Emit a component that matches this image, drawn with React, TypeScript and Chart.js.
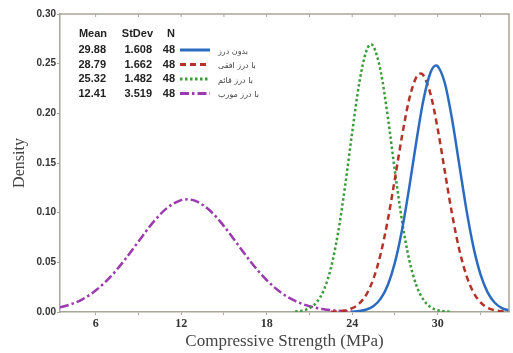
import React, { useEffect, useRef } from "react";
import { Chart, registerables } from "chart.js";

Chart.register(...registerables);

// Fitted normal density curves
const seriesNames = ["بدون درز", "با درز افقی", "با درز قائم", "با درز مورب"];
const means = ["29.88", "28.79", "25.32", "12.41"];
const stdevs = ["1.608", "1.662", "1.482", "3.519"];
const counts = ["48", "48", "48", "48"];

const blueX = [24, 24.5, 25, 25.5, 26, 26.5, 27, 27.5, 28, 28.5, 29, 29.5, 29.88, 30, 30.5, 31, 31.5, 32, 32.5, 33, 33.5, 34, 34.5, 35];
const blueY = [0.0003, 0.0009, 0.0025, 0.0061, 0.0135, 0.0272, 0.0499, 0.083, 0.1252, 0.1717, 0.2136, 0.2413, 0.2481, 0.2474, 0.2303, 0.1946, 0.1494, 0.1041, 0.0658, 0.0378, 0.0197, 0.0093, 0.004, 0.0016];

const redX = [22.5, 23, 23.5, 24, 24.5, 25, 25.5, 26, 26.5, 27, 27.5, 28, 28.5, 28.79, 29, 29.5, 30, 30.5, 31, 31.5, 32, 32.5, 33, 33.5, 34, 34.5, 35];
const redY = [0.0002, 0.0006, 0.0015, 0.0038, 0.0086, 0.0178, 0.0338, 0.0587, 0.0929, 0.1344, 0.1776, 0.2144, 0.2364, 0.24, 0.2381, 0.2191, 0.1842, 0.1414, 0.0991, 0.0635, 0.0372, 0.0199, 0.0097, 0.0043, 0.0018, 0.0007, 0.0002];

const greenX = [20, 20.5, 21, 21.5, 22, 22.5, 23, 23.5, 24, 24.5, 25, 25.32, 25.5, 26, 26.5, 27, 27.5, 28, 28.5, 29, 29.5, 30, 30.5, 31];
const greenY = [0.0004, 0.0014, 0.0038, 0.0097, 0.0219, 0.044, 0.0791, 0.1267, 0.181, 0.231, 0.263, 0.2692, 0.2672, 0.2423, 0.1961, 0.1415, 0.0912, 0.0525, 0.0269, 0.0123, 0.005, 0.0018, 0.0006, 0.0002];

const purpleX = [3.5, 4, 5, 6, 7, 8, 9, 10, 11, 12, 12.41, 13, 14, 15, 16, 17, 18, 19, 20, 21, 22, 23, 24];
const purpleY = [0.0046, 0.0065, 0.0123, 0.0216, 0.0348, 0.0517, 0.0709, 0.0897, 0.1046, 0.1126, 0.1134, 0.1118, 0.1024, 0.0865, 0.0674, 0.0484, 0.0321, 0.0196, 0.0111, 0.0058, 0.0028, 0.0012, 0.0005];

const xTicks = [6, 9, 12, 15, 18, 21, 24, 27, 30, 33];
const yTicks = [0, 0.05, 0.1, 0.15, 0.2, 0.25, 0.3];

const colors = ["#2b6cc0", "#b33328", "#3b9b3b", "#9b3aae"];
const dashes: number[][] = [[], [6, 4], [2.5, 2.5], [9, 3, 2.5, 3]];

const pts = (xs: number[], ys: number[]) => xs.map((x, i) => ({ x, y: ys[i] }));

const framePlugin = {
  id: "frame",
  afterDraw(chart: any) {
    const { ctx, chartArea } = chart;
    const { left, right, top, bottom } = chartArea;
    ctx.save();
    ctx.strokeStyle = "#aaa597";
    ctx.lineWidth = 1.5;
    ctx.beginPath();
    ctx.moveTo(left, top);
    ctx.lineTo(right, top);
    ctx.lineTo(right, bottom);
    ctx.stroke();
    const xs = chart.scales.x;
    ctx.lineWidth = 1;
    xTicks.forEach((v) => {
      const px = xs.getPixelForValue(v);
      ctx.beginPath();
      ctx.moveTo(px, top);
      ctx.lineTo(px, top + 3);
      ctx.stroke();
    });
    ctx.restore();
  },
};

const legendPlugin = {
  id: "tableLegend",
  afterDraw(chart: any) {
    const { ctx } = chart;
    ctx.save();
    ctx.fillStyle = "#222";
    ctx.textBaseline = "middle";
    ctx.font = 'bold 11px "Liberation Sans", Arial, sans-serif';
    ctx.textAlign = "right";
    const colX = [106, 152, 175];
    const headY = 34;
    ctx.fillText("Mean", 107, headY);
    ctx.fillText("StDev", 153, headY);
    ctx.fillText("N", 175, headY);
    const rowY = [50, 64.5, 79, 93.5];
    rowY.forEach((y, i) => {
      ctx.fillStyle = "#222";
      ctx.font = 'bold 11px "Liberation Sans", Arial, sans-serif';
      ctx.textAlign = "right";
      ctx.fillText(means[i], colX[0], y);
      ctx.fillText(stdevs[i], colX[1], y);
      ctx.fillText(counts[i], colX[2], y);
      ctx.strokeStyle = colors[i];
      ctx.lineWidth = 3;
      ctx.setLineDash(dashes[i]);
      ctx.beginPath();
      ctx.moveTo(180, y);
      ctx.lineTo(210, y);
      ctx.stroke();
      ctx.setLineDash([]);
      ctx.fillStyle = "#444";
      ctx.font = '8px "DejaVu Sans", sans-serif';
      ctx.textAlign = "left";
      ctx.fillText(seriesNames[i], 218, y + 1.5);
    });
    ctx.restore();
  },
};

export default function App() {
  const ref = useRef<HTMLCanvasElement | null>(null);
  useEffect(() => {
    document.body.style.margin = "0";
    const canvas = ref.current;
    if (!canvas) return;
    const data = [pts(blueX, blueY), pts(redX, redY), pts(greenX, greenY), pts(purpleX, purpleY)];
    const chart = new Chart(canvas, {
      type: "line",
      data: {
        datasets: data.map((d, i) => ({
          label: seriesNames[i],
          data: d,
          borderColor: colors[i],
          borderWidth: 2.5,
          borderDash: dashes[i],
          pointRadius: 0,
          fill: false,
          tension: 0.4,
          cubicInterpolationMode: "monotone" as const,
        })),
      },
      options: {
        responsive: false,
        animation: false,
        layout: { padding: { top: 14, right: 4, left: 0, bottom: 0 } },
        plugins: { legend: { display: false }, tooltip: { enabled: false } },
        scales: {
          x: {
            type: "linear",
            min: 3.5,
            max: 35,
            afterBuildTicks: (scale: any) => {
              scale.ticks = xTicks.map((v) => ({ value: v }));
            },
            afterFit: (scale: any) => {
              scale.height = 41;
            },
            grid: { drawOnChartArea: false, drawTicks: true, tickLength: 3, color: "#aaa597" },
            border: { color: "#aaa597", width: 1.5 },
            ticks: {
              autoSkip: false,
              maxRotation: 0,
              padding: 2,
              color: "#333",
              font: { family: '"Liberation Serif", serif', size: 12, weight: "bold" },
              callback: (v: any) => (Number(v) % 6 === 0 ? String(v) : ""),
            },
            title: {
              display: true,
              text: "Compressive Strength (MPa)",
              color: "#444",
              font: { family: '"Liberation Serif", serif', size: 17 },
              padding: { top: 0, bottom: 1 },
            },
          },
          y: {
            type: "linear",
            min: 0,
            max: 0.3,
            afterBuildTicks: (scale: any) => {
              scale.ticks = yTicks.map((v) => ({ value: v }));
            },
            afterFit: (scale: any) => {
              scale.width = 60;
            },
            grid: { drawOnChartArea: false, drawTicks: true, tickLength: 3, color: "#aaa597" },
            border: { color: "#aaa597", width: 1.5 },
            ticks: {
              padding: 1,
              color: "#333",
              font: { family: '"Liberation Sans", Arial, sans-serif', size: 10, weight: "bold" },
              callback: (v: any) => Number(v).toFixed(2),
            },
            title: {
              display: true,
              text: "Density",
              color: "#444",
              font: { family: '"Liberation Serif", serif', size: 16 },
              padding: { top: 10, bottom: 0 },
            },
          },
        },
      },
      plugins: [framePlugin, legendPlugin],
    });
    return () => chart.destroy();
  }, []);
  return <canvas ref={ref} width={513} height={353} style={{ display: "block" }} />;
}
